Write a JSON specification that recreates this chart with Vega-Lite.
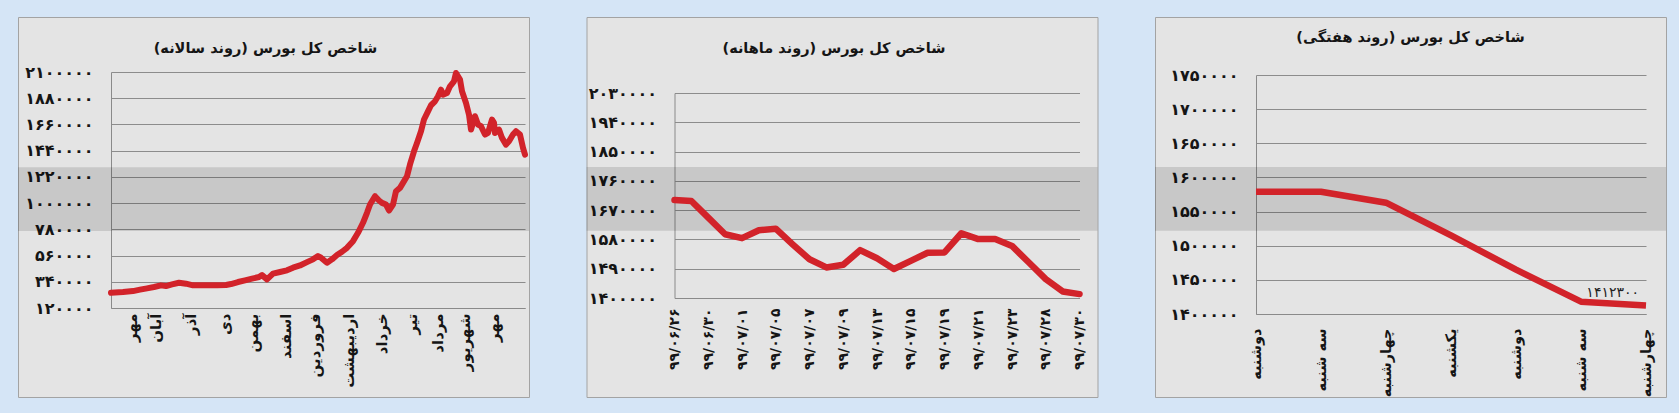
{
  "$schema": "https://vega.github.io/schema/vega-lite/v6.json",
  "background": "#d5e5f6",
  "padding": {"left": 17, "top": 16, "right": 18, "bottom": 17},
  "spacing": 55.5,
  "config": {
    "font": "DejaVu Sans",
    "view": {"fill": "#e4e4e4", "stroke": "#a3a3a3", "strokeWidth": 1},
    "axis": {
      "labelFont": "DejaVu Sans",
      "labelFontWeight": "bold",
      "labelColor": "#151515",
      "domainColor": "#8a8a8a",
      "domainWidth": 1,
      "ticks": false,
      "title": null,
      "labelOverlap": false,
      "labelBound": false,
      "labelFlush": false
    },
    "axisY": {"grid": true, "gridColor": "#8c8c8c", "gridWidth": 1, "labelFontSize": 16, "labelPadding": 18},
    "axisX": {"grid": false, "labelAngle": -90, "labelFontSize": 15},
    "title": {"font": "DejaVu Sans", "fontSize": 14.5, "fontWeight": "bold", "color": "#151515", "anchor": "middle", "frame": "group", "baseline": "middle"}
  },
  "hconcat": [
    {
      "width": 511,
      "height": 380,
      "title": {"text": "‏شاخص کل بورس (روند سالانه)‏", "offset": -39, "dx": -8},
      "layer": [
        {
          "data": {"values": [{}]},
          "mark": {"type": "rect", "fill": "#000000", "opacity": 0.12},
          "encoding": {
            "y": {"datum": 1301400, "type": "quantitative"},
            "y2": {"datum": 765100}
          }
        },
        {
          "data": {"values": [
            {"d": 0, "v": 248000}, {"d": 12, "v": 254000}, {"d": 22, "v": 262000}, {"d": 29, "v": 274000},
            {"d": 36, "v": 285000}, {"d": 43, "v": 296000}, {"d": 50, "v": 310000}, {"d": 55, "v": 304000},
            {"d": 61, "v": 318000}, {"d": 68, "v": 332000}, {"d": 75, "v": 324000}, {"d": 82, "v": 310000},
            {"d": 88, "v": 310000}, {"d": 95, "v": 310000}, {"d": 106, "v": 310000}, {"d": 115, "v": 313000},
            {"d": 120, "v": 321000}, {"d": 127, "v": 338000}, {"d": 134, "v": 352000}, {"d": 141, "v": 366000},
            {"d": 148, "v": 380000}, {"d": 151, "v": 396000}, {"d": 156, "v": 360000}, {"d": 162, "v": 408000},
            {"d": 169, "v": 422000}, {"d": 176, "v": 436000}, {"d": 182, "v": 458000}, {"d": 189, "v": 477000},
            {"d": 196, "v": 505000}, {"d": 202, "v": 528000}, {"d": 207, "v": 556000}, {"d": 210, "v": 542000},
            {"d": 216, "v": 500000}, {"d": 221, "v": 528000}, {"d": 226, "v": 564000}, {"d": 231, "v": 592000},
            {"d": 236, "v": 625000}, {"d": 242, "v": 681000}, {"d": 247, "v": 751000}, {"d": 252, "v": 835000},
            {"d": 256, "v": 919000}, {"d": 259, "v": 988000}, {"d": 264, "v": 1058000}, {"d": 268, "v": 1022000},
            {"d": 271, "v": 1002000}, {"d": 275, "v": 988000}, {"d": 278, "v": 938000}, {"d": 282, "v": 988000},
            {"d": 285, "v": 1100000}, {"d": 289, "v": 1128000}, {"d": 292, "v": 1170000}, {"d": 296, "v": 1226000},
            {"d": 299, "v": 1324000}, {"d": 303, "v": 1435000}, {"d": 306, "v": 1505000}, {"d": 310, "v": 1603000},
            {"d": 313, "v": 1701000}, {"d": 317, "v": 1770000}, {"d": 320, "v": 1821000}, {"d": 324, "v": 1854000},
            {"d": 327, "v": 1896000}, {"d": 330, "v": 1952000}, {"d": 332, "v": 1910000}, {"d": 336, "v": 1924000},
            {"d": 339, "v": 1980000}, {"d": 343, "v": 2022000}, {"d": 345, "v": 2092000}, {"d": 349, "v": 2036000},
            {"d": 351, "v": 1938000}, {"d": 355, "v": 1840000}, {"d": 358, "v": 1742000}, {"d": 360, "v": 1617000},
            {"d": 364, "v": 1729000}, {"d": 367, "v": 1659000}, {"d": 370, "v": 1645000}, {"d": 374, "v": 1575000},
            {"d": 377, "v": 1589000}, {"d": 381, "v": 1701000}, {"d": 383, "v": 1673000}, {"d": 384, "v": 1589000},
            {"d": 388, "v": 1617000}, {"d": 391, "v": 1547000}, {"d": 395, "v": 1491000}, {"d": 398, "v": 1519000},
            {"d": 402, "v": 1575000}, {"d": 405, "v": 1603000}, {"d": 409, "v": 1575000}, {"d": 412, "v": 1463000},
            {"d": 414, "v": 1407000}
          ]},
          "mark": {"type": "line", "color": "#d2232a", "strokeWidth": 6, "strokeJoin": "round", "strokeCap": "round"},
          "encoding": {
            "x": {
              "field": "d", "type": "quantitative",
              "scale": {"domain": [0, 414], "range": [93, 507], "nice": false, "zero": false},
              "axis": {
                "offset": -89, "labelPadding": 5,
                "values": [20, 44, 79, 113, 141, 174, 203, 237, 270, 300, 326, 353, 382],
                "labelExpr": "['مهر','آبان','آذر','دی','بهمن','اسفند','فروردین','اردیبهشت','خرداد','تیر','مرداد','شهریور','مهر'][indexof([20,44,79,113,141,174,203,237,270,300,326,353,382], datum.value)]"
              }
            },
            "y": {
              "field": "v", "type": "quantitative",
              "scale": {"domain": [120000, 2100000], "range": [291, 55], "nice": false, "zero": false},
              "axis": {
                "offset": -93,
                "values": [120000, 340000, 560000, 780000, 1000000, 1220000, 1440000, 1660000, 1880000, 2100000],
                "labelExpr": "join(split(join(split(join(split(join(split(join(split(join(split(join(split(join(split(join(split(join(split(format(datum.value,'d'),'0'),'۰'),'1'),'۱'),'2'),'۲'),'3'),'۳'),'4'),'۴'),'5'),'۵'),'6'),'۶'),'7'),'۷'),'8'),'۸'),'9'),'۹')"
              }
            }
          }
        }
      ]
    },
    {
      "width": 511,
      "height": 380,
      "title": {"text": "‏شاخص کل بورس (روند ماهانه)‏", "offset": -39, "dx": -8},
      "layer": [
        {
          "data": {"values": [{}]},
          "mark": {"type": "rect", "fill": "#000000", "opacity": 0.12},
          "encoding": {
            "y": {"datum": 1802300, "type": "quantitative"},
            "y2": {"datum": 1606300}
          }
        },
        {
          "data": {"values": [
            {"i": 0, "v": 1701000}, {"i": 1, "v": 1698000}, {"i": 2, "v": 1647000}, {"i": 3, "v": 1596000},
            {"i": 4, "v": 1584000}, {"i": 5, "v": 1608000}, {"i": 6, "v": 1613000}, {"i": 7, "v": 1565000},
            {"i": 8, "v": 1519000}, {"i": 9, "v": 1494000}, {"i": 10, "v": 1502000}, {"i": 11, "v": 1547000},
            {"i": 12, "v": 1522000}, {"i": 13, "v": 1489000}, {"i": 14, "v": 1514000}, {"i": 15, "v": 1539000},
            {"i": 16, "v": 1540000}, {"i": 17, "v": 1599000}, {"i": 18, "v": 1581000}, {"i": 19, "v": 1581000},
            {"i": 20, "v": 1560000}, {"i": 21, "v": 1509000}, {"i": 22, "v": 1458000}, {"i": 23, "v": 1420000},
            {"i": 24, "v": 1412000}
          ]},
          "mark": {"type": "line", "color": "#d2232a", "strokeWidth": 6.5, "strokeJoin": "round", "strokeCap": "round"},
          "encoding": {
            "x": {
              "field": "i", "type": "quantitative",
              "scale": {"domain": [0, 24], "range": [88, 493], "nice": false, "zero": false},
              "axis": {
                "offset": -99, "labelPadding": 10, "labelFontSize": 14,
                "values": [0, 2, 4, 6, 8, 10, 12, 14, 16, 18, 20, 22, 24],
                "labelExpr": "['۹۹/۰۶/۲۶','۹۹/۰۶/۳۰','۹۹/۰۷/۰۱','۹۹/۰۷/۰۵','۹۹/۰۷/۰۷','۹۹/۰۷/۰۹','۹۹/۰۷/۱۳','۹۹/۰۷/۱۵','۹۹/۰۷/۱۹','۹۹/۰۷/۲۱','۹۹/۰۷/۲۳','۹۹/۰۷/۲۸','۹۹/۰۷/۳۰'][indexof([0,2,4,6,8,10,12,14,16,18,20,22,24], datum.value)]"
              }
            },
            "y": {
              "field": "v", "type": "quantitative",
              "scale": {"domain": [1400000, 2030000], "range": [281, 76], "nice": false, "zero": false},
              "axis": {
                "offset": -88,
                "values": [1400000, 1490000, 1580000, 1670000, 1760000, 1850000, 1940000, 2030000],
                "labelExpr": "join(split(join(split(join(split(join(split(join(split(join(split(join(split(join(split(join(split(join(split(format(datum.value,'d'),'0'),'۰'),'1'),'۱'),'2'),'۲'),'3'),'۳'),'4'),'۴'),'5'),'۵'),'6'),'۶'),'7'),'۷'),'8'),'۸'),'9'),'۹')"
              }
            }
          }
        }
      ]
    },
    {
      "width": 511,
      "height": 380,
      "title": {"text": "‏شاخص کل بورس (روند هفتگی)‏", "offset": -28, "dx": 0},
      "layer": [
        {
          "data": {"values": [{}]},
          "mark": {"type": "rect", "fill": "#000000", "opacity": 0.12},
          "encoding": {
            "y": {"datum": 1615400, "type": "quantitative"},
            "y2": {"datum": 1521800}
          }
        },
        {
          "data": {"values": [
            {"i": 0, "v": 1579000}, {"i": 1, "v": 1579000}, {"i": 2, "v": 1563000}, {"i": 3, "v": 1515000},
            {"i": 4, "v": 1465000}, {"i": 5, "v": 1418000}, {"i": 6, "v": 1412300}
          ]},
          "mark": {"type": "line", "color": "#d2232a", "strokeWidth": 6.5, "strokeJoin": "round", "strokeCap": "butt"},
          "encoding": {
            "x": {
              "field": "i", "type": "quantitative",
              "scale": {"domain": [0, 6], "range": [101, 491], "nice": false, "zero": false},
              "axis": {
                "offset": -83, "labelPadding": 14, "labelFontSize": 14.5,
                "values": [0, 1, 2, 3, 4, 5, 6],
                "labelExpr": "['دوشنبه','سه شنبه','چهارشنبه','یکشنبه','دوشنبه','سه شنبه','چهارشنبه'][indexof([0,1,2,3,4,5,6], datum.value)]"
              }
            },
            "y": {
              "field": "v", "type": "quantitative",
              "scale": {"domain": [1400000, 1750000], "range": [297, 58], "nice": false, "zero": false},
              "axis": {
                "offset": -101,
                "values": [1400000, 1450000, 1500000, 1550000, 1600000, 1650000, 1700000, 1750000],
                "labelExpr": "join(split(join(split(join(split(join(split(join(split(join(split(join(split(join(split(join(split(join(split(format(datum.value,'d'),'0'),'۰'),'1'),'۱'),'2'),'۲'),'3'),'۳'),'4'),'۴'),'5'),'۵'),'6'),'۶'),'7'),'۷'),'8'),'۸'),'9'),'۹')"
              }
            }
          }
        },
        {
          "data": {"values": [{"i": 6, "v": 1412300, "t": "۱۴۱۲۳۰۰"}]},
          "mark": {"type": "text", "align": "right", "baseline": "middle", "dx": -7, "dy": -13, "fontSize": 14, "font": "DejaVu Sans", "color": "#222222"},
          "encoding": {
            "x": {"field": "i", "type": "quantitative"},
            "y": {"field": "v", "type": "quantitative"},
            "text": {"field": "t"}
          }
        }
      ]
    }
  ]
}
